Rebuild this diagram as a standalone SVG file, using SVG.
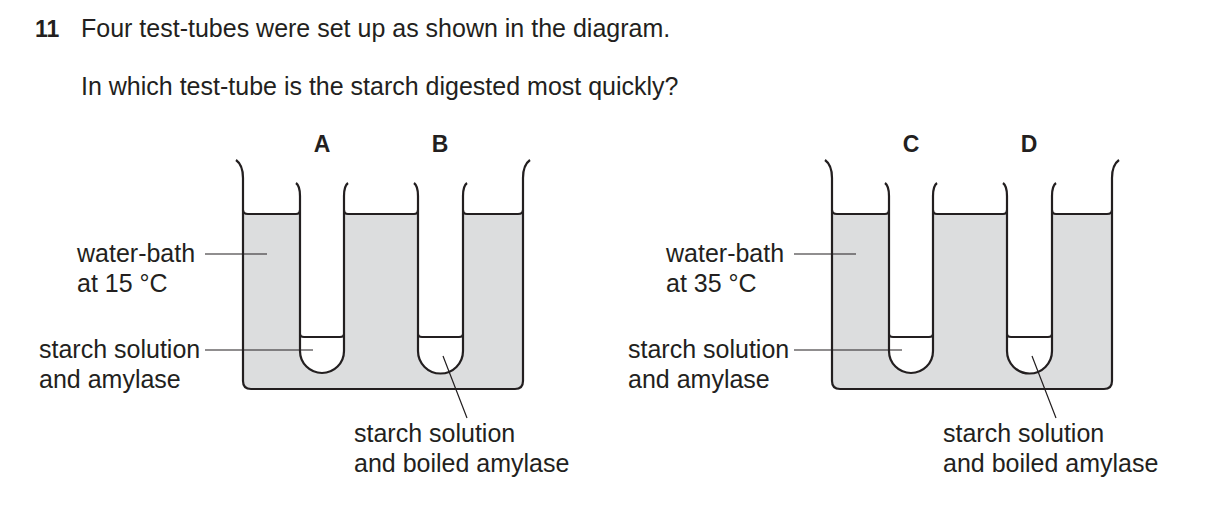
<svg xmlns="http://www.w3.org/2000/svg" width="1209" height="530" viewBox="0 0 1209 530">
<style>
text{font-family:"Liberation Sans",Arial,sans-serif;font-size:25px;fill:#231f20}
.b{font-weight:bold;font-size:23px}
.o{fill:none;stroke:#231f20;stroke-width:2.2}
.t{fill:#fff;stroke:#231f20;stroke-width:2.2}
.w{fill:#dcddde}
.l{stroke:#231f20;stroke-width:1.2;fill:none}
</style>
<defs>
<g id="bk">
<path class="w" d="M243,214 L523,214 L523,381 Q523,389 515,389 L251,389 Q243,389 243,381Z"/>
<path class="o" d="M236,160 Q243,165 243,178 L243,381 Q243,389 251,389 L515,389 Q523,389 523,381 L523,178 Q523,165 530,160"/>
<path class="o" d="M243,210 Q243,214 248,214 L296,214 Q300,214 300,210 M344,210 Q344,214 348,214 L414,214 Q418,214 418,210 M463,210 Q463,214 467,214 L518,214 Q523,214 523,210"/>
<path class="t" d="M296,183 Q300,186 300,196 L300,351 A22,22 0 0 0 344,351 L344,196 Q344,186 348,183"/>
<path class="o" d="M300,334 Q300,337 304,337 L340,337 Q344,337 344,334"/>
<path class="t" d="M414,183 Q418,186 418,196 L418,351 A22.5,22.5 0 0 0 463,351 L463,196 Q463,186 467,183"/>
<path class="o" d="M418,334 Q418,337 422,337 L459,337 Q463,337 463,334"/>
<path class="l" d="M205,254 L267,254 M205,350 L313,350 M443,356 L467,418"/>
<text x="39" y="358">starch solution</text>
<text x="39" y="388">and amylase</text>
<text x="354" y="442">starch solution</text>
<text x="354" y="472">and boiled amylase</text>
</g>
</defs>
<text x="35" y="37" class="b">11</text>
<text x="81" y="37">Four test-tubes were set up as shown in the diagram.</text>
<text x="81" y="95">In which test-tube is the starch digested most quickly?</text>
<g id="bath1">
<use href="#bk"/>
<text x="322" y="152" class="b" text-anchor="middle">A</text>
<text x="440" y="152" class="b" text-anchor="middle">B</text>
<text x="77" y="262">water-bath</text>
<text x="77" y="292">at 15 °C</text>
</g>
<g id="bath2" transform="translate(589,0)">
<use href="#bk"/>
<text x="322" y="152" class="b" text-anchor="middle">C</text>
<text x="440" y="152" class="b" text-anchor="middle">D</text>
<text x="77" y="262">water-bath</text>
<text x="77" y="292">at 35 °C</text>
</g>
</svg>
